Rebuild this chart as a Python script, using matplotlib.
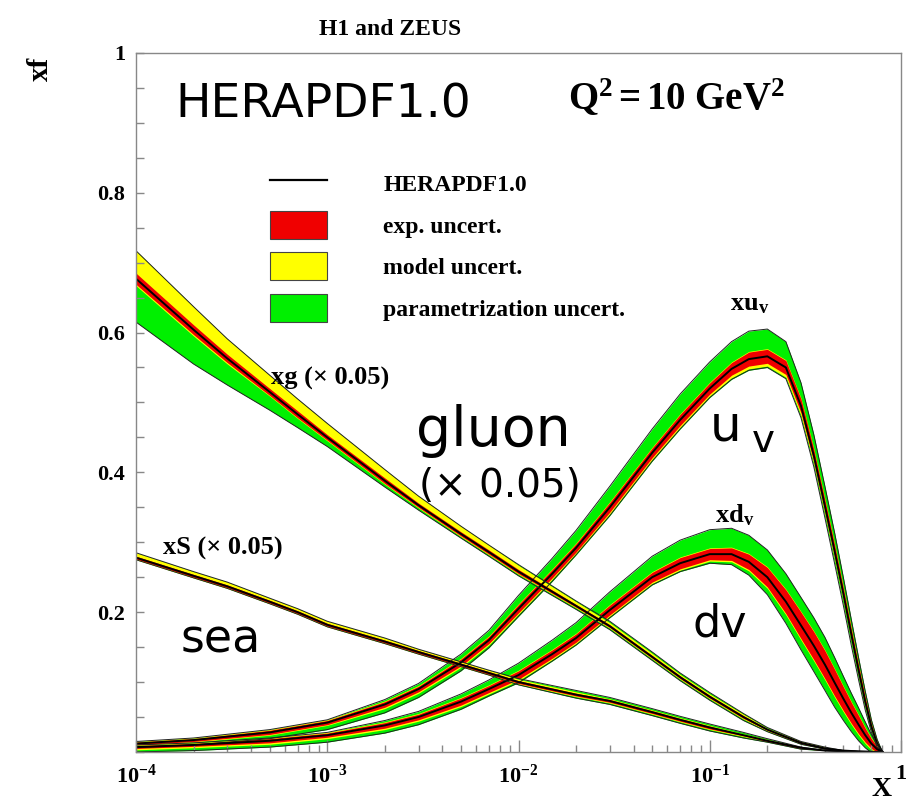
import numpy as np
import matplotlib
matplotlib.use("Agg")
import matplotlib.pyplot as plt
from matplotlib.lines import Line2D
from matplotlib.patches import Patch
from matplotlib.ticker import LogLocator, MultipleLocator, NullFormatter

plt.rcParams['mathtext.fontset'] = 'custom'
plt.rcParams['mathtext.rm'] = 'Liberation Serif'
plt.rcParams['mathtext.bf'] = 'Liberation Serif:bold'
plt.rcParams['mathtext.it'] = 'Liberation Serif:italic'

SERIF = 'Liberation Serif'
HAND = 'DejaVu Sans'
RED = '#f00000'
YELLOW = '#ffff00'
GREEN = '#00f000'

# ---- gluon and sea (both scaled by 0.05), Q^2 = 10 GeV^2 ----
x_sing = [1e-4, 2e-4, 3e-4, 5e-4, 7e-4, 1e-3, 2e-3, 3e-3, 5e-3, 7e-3, 1e-2, 2e-2,
          3e-2, 5e-2, 7e-2, 0.1, 0.15, 0.2, 0.3, 0.4, 0.5, 0.6, 0.7, 0.8]

xg = [0.677, 0.604, 0.563, 0.515, 0.483, 0.450, 0.388, 0.353, 0.312, 0.286, 0.258, 0.209,
      0.180, 0.136, 0.107, 0.079, 0.050, 0.032, 0.013, 0.005, 0.002, 0.0008, 0.0002, 0.0]
xg_exp = [.008, .007, .006, .005, .005, .004, .004, .003, .003, .003, .003, .002,
          .002, .002, .002, .002, .002, .001, .001, .001, 0, 0, 0, 0]
xg_mod_up = [.032, .026, .022, .019, .017, .016, .012, .010, .008, .007, .006, .004,
             .003, .003, .002, .002, .002, .001, .001, .001, 0, 0, 0, 0]
xg_mod_dn = [.002, .002, .002, .001, .001, .001, .001, .001, .001, .001, .001, .001,
             .001, .001, .001, .001, .001, .001, 0, 0, 0, 0, 0, 0]
xg_par_up = [0, 0, 0, 0, 0, 0, 0, 0, 0, 0, .001, .001,
             .002, .002, .002, .002, .001, .001, 0, 0, 0, 0, 0, 0]
xg_par_dn = [.052, .040, .030, .020, .013, .008, .004, .003, .002, .002, .002, .002,
             .002, .002, .002, .002, .002, .001, .001, 0, 0, 0, 0, 0]

xS = [0.278, 0.252, 0.237, 0.215, 0.200, 0.182, 0.158, 0.143, 0.125, 0.113, 0.100, 0.082,
      0.073, 0.057, 0.046, 0.035, 0.024, 0.016, 0.006, 0.002, 0.001, 0.0004, 0.0001, 0.0]
xS_exp = [.002, .002, .002, .002, .002, .002, .002, .002, .002, .002, .002, .002,
          .002, .002, .002, .002, .001, .001, .001, 0, 0, 0, 0, 0]
xS_mod_up = [.005, .004, .004, .003, .003, .003, .003, .002, .002, .002, .002, .002,
             .001, .001, .001, .001, .001, .001, 0, 0, 0, 0, 0, 0]
xS_mod_dn = [.001, .001, .001, .001, .001, .001, .001, .001, .001, .001, .001, .001,
             .001, .001, .001, .001, .001, 0, 0, 0, 0, 0, 0, 0]
xS_par_up = [0, 0, 0, 0, 0, 0, 0, 0, 0, 0, .001, .002,
             .002, .002, .002, .002, .002, .001, 0, 0, 0, 0, 0, 0]
xS_par_dn = [0, 0, 0, 0, 0, 0, 0, 0, 0, 0, .001, .002,
             .002, .002, .002, .002, .002, .001, .001, 0, 0, 0, 0, 0]

# ---- valence ----
x_val = [1e-4, 2e-4, 5e-4, 1e-3, 2e-3, 3e-3, 5e-3, 7e-3, 1e-2, 1.5e-2, 2e-2, 3e-2, 5e-2, 7e-2,
         0.1, 0.13, 0.16, 0.2, 0.25, 0.3, 0.35, 0.4, 0.45, 0.5, 0.55, 0.6, 0.65, 0.7, 0.75, 0.8]

xuv = [.012, .017, .028, .042, .068, .090, .128, .160, .205, .255, .292, .350, .428, .475,
       .520, .548, .562, .566, .550, .495, .424, .352, .287, .226, .168, .117, .072, .036, .012, 0]
xuv_exp = [.002, .002, .003, .003, .004, .004, .005, .005, .006, .006, .006, .007, .007, .008,
           .008, .009, .010, .010, .010, .010, .009, .009, .009, .008, .008, .007, .006, .004, .002, 0]
xuv_mod_up = [.001] * 29 + [0]
xuv_mod_dn = [.001, .001, .001, .001, .002, .002, .002, .002, .002, .002, .002, .003, .003, .003,
              .003, .004, .004, .004, .004, .004, .003, .003, .003, .003, .002, .002, .002, .001, .001, 0]
xuv_par_up = [0, 0, 0, 0, .002, .003, .006, .008, .012, .015, .018, .022, .026, .028,
              .029, .029, .029, .028, .026, .022, .020, .018, .016, .014, .012, .010, .008, .005, .003, 0]
xuv_par_dn = [.003, .004, .005, .006, .006, .006, .005, .004, .003, .003, .002, .002, .002, .002,
              .002, .002, .002, .002, .002, .003, .004, .005, .006, .006, .006, .005, .004, .003, .002, 0]

xdv = [.007, .010, .016, .024, .038, .050, .072, .090, .110, .140, .163, .203, .250, .270,
       .283, .283, .272, .250, .215, .181, .152, .125, .099, .076, .056, .039, .024, .012, .004, 0]
xdv_exp = [.002, .002, .003, .003, .004, .004, .005, .005, .006, .006, .006, .007, .007, .008,
           .008, .009, .011, .014, .017, .019, .020, .020, .019, .017, .015, .013, .010, .007, .004, 0]
xdv_mod_up = [.001] * 29 + [0]
xdv_mod_dn = [.002] * 29 + [0]
xdv_par_up = [0, 0, 0, 0, .002, .003, .005, .007, .010, .013, .015, .018, .022, .024,
              .026, .027, .026, .024, .022, .020, .019, .018, .016, .014, .012, .010, .008, .005, .002, 0]
xdv_par_dn = [.003, .004, .004, .005, .005, .005, .004, .003, .003, .002, .002, .002, .002, .002,
              .003, .004, .006, .009, .012, .014, .015, .015, .014, .012, .010, .008, .006, .004, .002, 0]


def draw_pdf(ax, x, c, exp, mup, mdn, pup, pdn):
    # bands are stacked: exp inside, model on top of it, parametrisation outermost
    x = np.asarray(x)
    c = np.asarray(c)
    e_lo, e_hi = c - np.asarray(exp), c + np.asarray(exp)
    m_lo, m_hi = e_lo - np.asarray(mdn), e_hi + np.asarray(mup)
    t_lo, t_hi = m_lo - np.asarray(pdn), m_hi + np.asarray(pup)
    ax.fill_between(x, t_lo, t_hi, color=GREEN, lw=0)
    ax.fill_between(x, m_lo, m_hi, color=YELLOW, lw=0)
    ax.fill_between(x, e_lo, e_hi, color=RED, lw=0)
    ax.plot(x, t_lo, color='#222222', lw=0.7)
    ax.plot(x, t_hi, color='#222222', lw=0.7)
    ax.plot(x, c, color='black', lw=1.4)


fig = plt.figure(figsize=(9.08, 8.07), dpi=100)
ax = fig.add_axes([0.1498, 0.0682, 0.8425, 0.8662])
ax.set_xscale('log')
ax.set_xlim(1e-4, 1)
ax.set_ylim(0, 1)

draw_pdf(ax, x_val, xuv, xuv_exp, xuv_mod_up, xuv_mod_dn, xuv_par_up, xuv_par_dn)
draw_pdf(ax, x_val, xdv, xdv_exp, xdv_mod_up, xdv_mod_dn, xdv_par_up, xdv_par_dn)
draw_pdf(ax, x_sing, xS, xS_exp, xS_mod_up, xS_mod_dn, xS_par_up, xS_par_dn)
draw_pdf(ax, x_sing, xg, xg_exp, xg_mod_up, xg_mod_dn, xg_par_up, xg_par_dn)

# axes cosmetics
for sp in ax.spines.values():
    sp.set_color('#888888')
    sp.set_linewidth(1.0)
ax.set_xticks([1e-4, 1e-3, 1e-2, 1e-1, 1])
ax.set_xticklabels([r'$\mathbf{10^{-4}}$', r'$\mathbf{10^{-3}}$', r'$\mathbf{10^{-2}}$',
                    r'$\mathbf{10^{-1}}$', '1'])
ax.xaxis.set_minor_locator(LogLocator(base=10, subs=np.arange(2, 10)))
ax.xaxis.set_minor_formatter(NullFormatter())
ax.set_yticks([0.2, 0.4, 0.6, 0.8, 1.0])
ax.set_yticklabels(['0.2', '0.4', '0.6', '0.8', '1'])
ax.yaxis.set_minor_locator(MultipleLocator(0.05))
ax.tick_params(which='both', direction='in', top=False, right=False, color='#888888')
ax.tick_params(axis='x', which='major', length=9, width=1, pad=9)
ax.tick_params(axis='x', which='minor', length=5, width=1)
ax.tick_params(axis='y', which='both', length=6, width=1, pad=8)
for lab in ax.get_xticklabels() + ax.get_yticklabels():
    lab.set_fontfamily(SERIF)
    lab.set_fontweight('bold')
    lab.set_fontsize(16)

handles = [Line2D([0], [0], color='black', lw=1.6),
           Patch(facecolor=RED, edgecolor='#444444', lw=0.8),
           Patch(facecolor=YELLOW, edgecolor='#444444', lw=0.8),
           Patch(facecolor=GREEN, edgecolor='#444444', lw=0.8)]
labels = ['HERAPDF1.0', 'exp. uncert.', 'model uncert.', 'parametrization uncert.']
ax.legend(handles, labels, loc='upper left', bbox_to_anchor=(0.175, 0.834), frameon=False,
          prop={'family': SERIF, 'weight': 'bold', 'size': 17},
          handlelength=2.4, handleheight=1.45, labelspacing=0.58, handletextpad=2.4,
          borderpad=0, borderaxespad=0)

# labels on the plot
bold = dict(family=SERIF, weight='bold')
ax.text(1.6e-4, 0.907, 'HERAPDF1.0', family=HAND, fontsize=34, va='baseline')
ax.text(0.0182, 0.918, r'$\mathbf{Q^2 = 10\ GeV^2}$', fontsize=28, va='baseline')
ax.text(5.1e-4, 0.525, u'xg (\u00d7 0.05)', fontsize=19, va='baseline', **bold)
ax.text(2.9e-3, 0.437, 'gluon', family=HAND, fontsize=40, va='baseline')
ax.text(3.0e-3, 0.365, u'(\u00d7 0.05)', family=HAND, fontsize=28, va='baseline')
ax.text(1.38e-4, 0.283, u'xS (\u00d7 0.05)', fontsize=19, va='baseline', **bold)
ax.text(1.7e-4, 0.142, 'sea', family=HAND, fontsize=33, va='baseline')
ax.text(0.128, 0.632, r'$\mathbf{xu_v}$', fontsize=19, va='baseline')
ax.text(0.100, 0.446, 'u', family=HAND, fontsize=36, va='baseline')
ax.text(0.166, 0.429, 'v', family=HAND, fontsize=28, va='baseline')
ax.text(0.106, 0.329, r'$\mathbf{xd_v}$', fontsize=19, va='baseline')
ax.text(0.0817, 0.165, 'dv', family=HAND, fontsize=32, va='baseline')

fig.text(0.43, 0.963, 'H1 and ZEUS', ha='center', va='center', fontsize=17, **bold)
fig.text(0.044, 0.915, 'xf', rotation=90, ha='center', va='center', fontsize=21, **bold)
fig.text(0.971, 0.022, 'X', ha='center', va='center', fontsize=20, **bold)

fig.savefig('out.png', dpi=100)
